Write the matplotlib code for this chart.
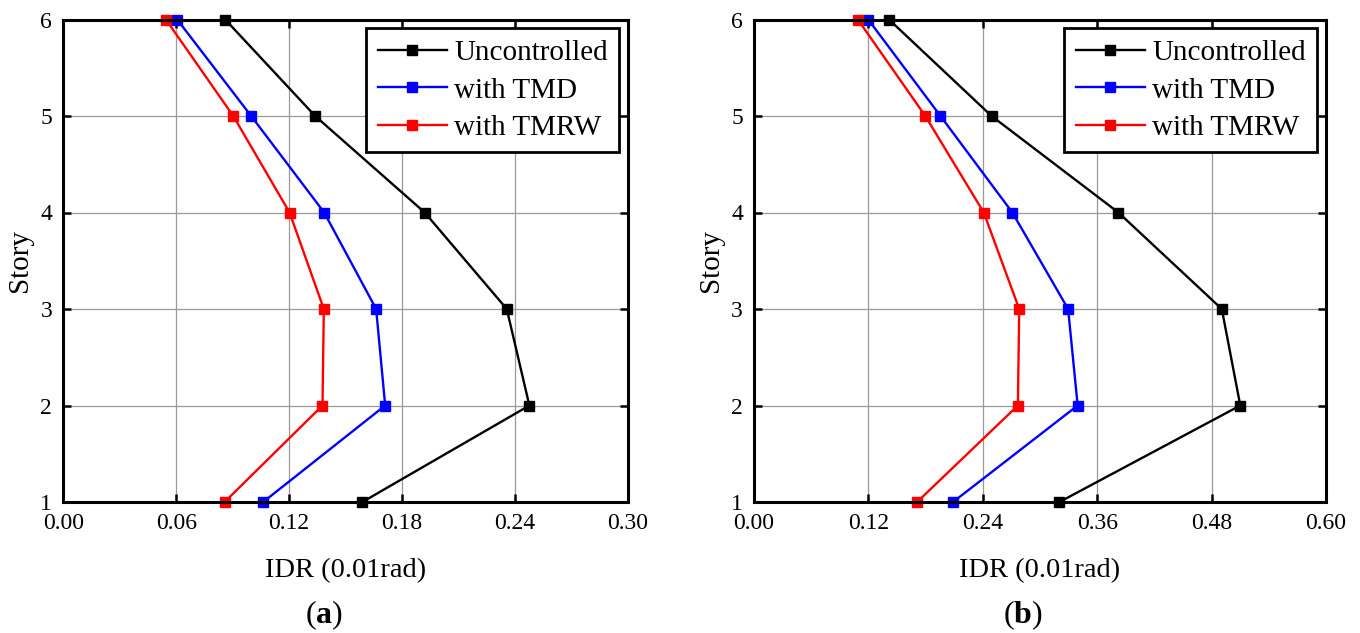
import matplotlib
matplotlib.use("Agg")
import matplotlib.pyplot as plt

stories = [1, 2, 3, 4, 5, 6]

# Panel (a)
a_unc = [0.1589, 0.2476, 0.2356, 0.1920, 0.1338, 0.0860]
a_tmd = [0.1062, 0.1710, 0.1662, 0.1386, 0.0998, 0.0605]
a_tmrw = [0.0857, 0.1377, 0.1384, 0.1202, 0.0903, 0.0545]
a_xticks = [0.00, 0.06, 0.12, 0.18, 0.24, 0.30]

# Panel (b)
b_unc = [0.3204, 0.5101, 0.4907, 0.3822, 0.2492, 0.1416]
b_tmd = [0.2088, 0.3395, 0.3295, 0.2710, 0.1956, 0.1198]
b_tmrw = [0.1711, 0.2768, 0.2782, 0.2410, 0.1797, 0.1089]
b_xticks = [0.00, 0.12, 0.24, 0.36, 0.48, 0.60]

series_names = ["Uncontrolled", "with TMD", "with TMRW"]
colors = ["black", "#0000ff", "#ff0000"]

plt.rcParams['font.family'] = ['Liberation Serif', 'DejaVu Serif']
plt.rcParams['mathtext.fontset'] = 'custom'
plt.rcParams['mathtext.rm'] = 'Liberation Serif'
plt.rcParams['mathtext.bf'] = 'Liberation Serif:bold'

W, H = 1360, 633
fig = plt.figure(figsize=(W / 100, H / 100), dpi=100)

def px_axes(l, r, t, b):
    return [l / W, 1 - b / H, (r - l) / W, (b - t) / H]

ax_a = fig.add_axes(px_axes(63.3, 628, 19.5, 502))
ax_b = fig.add_axes(px_axes(754, 1326, 19.5, 502))

panels = [(ax_a, [a_unc, a_tmd, a_tmrw], a_xticks, "a", 324),
          (ax_b, [b_unc, b_tmd, b_tmrw], b_xticks, "b", 1023)]

for ax, data, xt, tag, tag_x in panels:
    for vals, name, c in zip(data, series_names, colors):
        ax.plot(vals, stories, color=c, lw=1.7, marker='s', ms=7.5,
                mew=1, mec=c, mfc=c, label=name, zorder=3, clip_on=False)
    ax.set_xlim(xt[0], xt[-1])
    ax.set_ylim(1, 6)
    ax.set_xticks(xt)
    ax.set_xticklabels([f"{v:.2f}" for v in xt])
    ax.set_yticks(stories)
    ax.grid(True, color='#999999', lw=0.9, zorder=0)
    ax.tick_params(direction='in', length=6, width=1.8, labelsize=17,
                   top=True, right=True, colors='black')
    ax.tick_params(axis='x', pad=8)
    ax.tick_params(axis='y', pad=8)
    for s in ax.spines.values():
        s.set_linewidth(2.2)
        s.set_zorder(4)
    ax.set_xlabel("IDR (0.01rad)", fontsize=20.5)
    ax.xaxis.set_label_coords(0.5, -0.117)
    ax.set_ylabel("Story", fontsize=21, labelpad=5)
    leg = ax.legend(loc='upper right', fontsize=21, numpoints=1,
                    handlelength=2.35, handletextpad=0.25, borderpad=0.4,
                    labelspacing=0.37, fancybox=False, framealpha=1,
                    edgecolor='black', borderaxespad=0.3)
    leg.get_frame().set_linewidth(2.0)
    fig.text(tag_x / W, 1 - 615 / H, r"($\mathbf{" + tag + r"}$)",
             ha='center', va='center', fontsize=23)

fig.savefig("out.png", dpi=100)
